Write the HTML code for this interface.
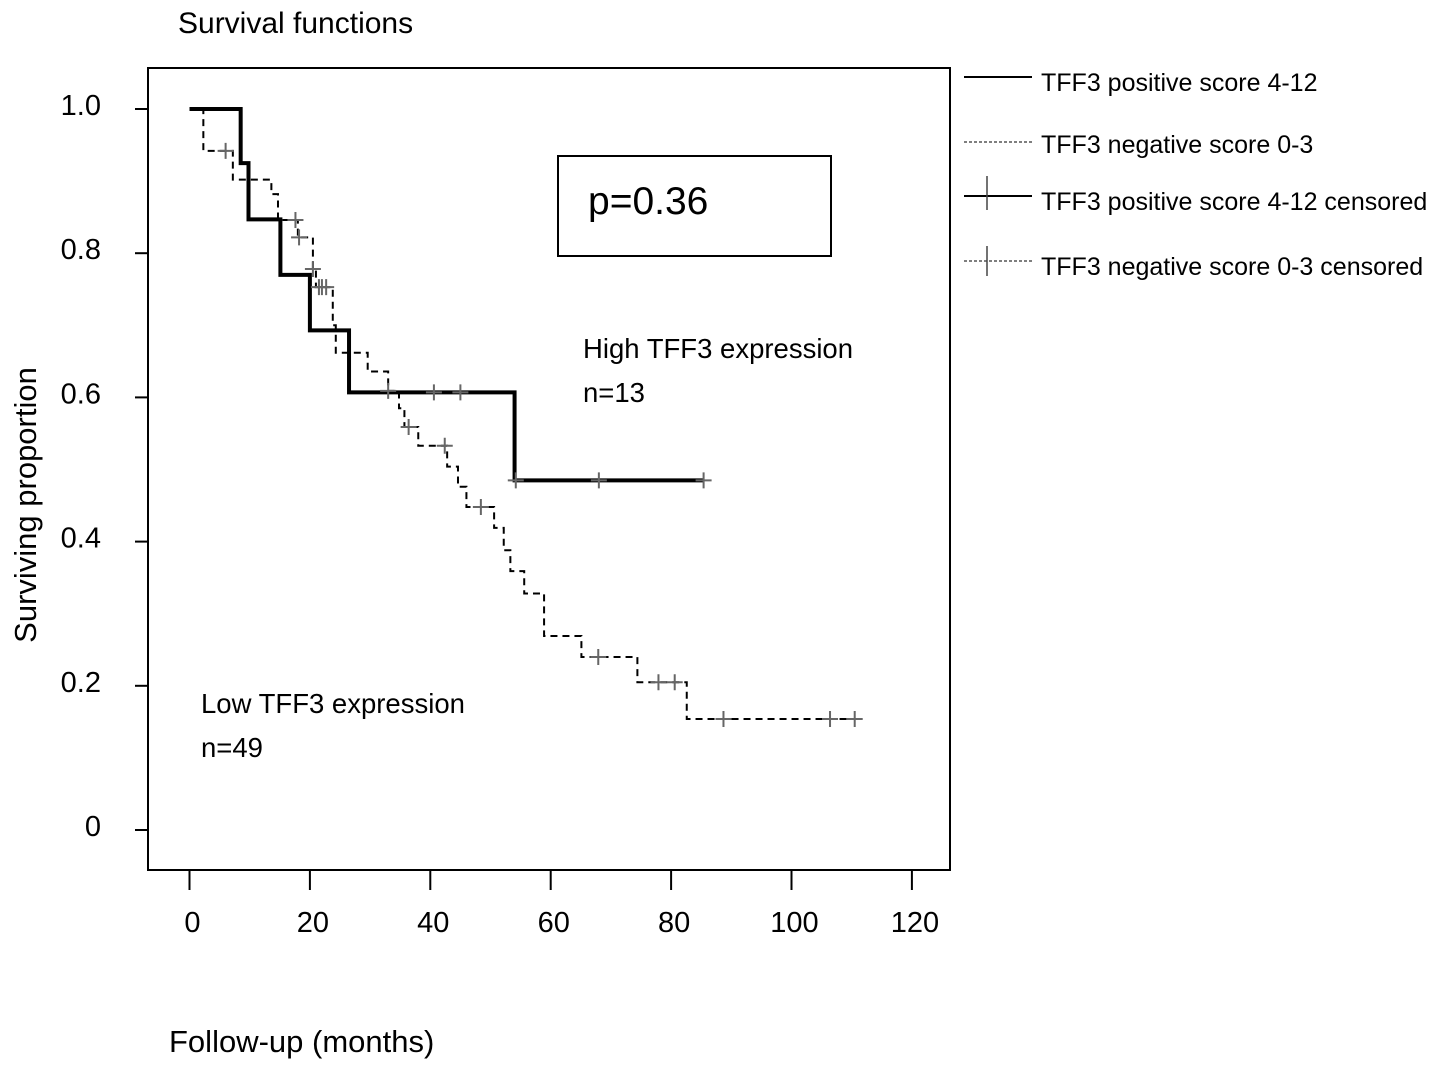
<!DOCTYPE html>
<html><head><meta charset="utf-8"><style>
body{margin:0;background:#fff;}
svg{display:block;font-family:"Liberation Sans",sans-serif;}
</style></head><body>
<svg id="chart" width="1441" height="1070">
<text x="178" y="33" font-size="30">Survival functions</text>
<rect x="148" y="68" width="802" height="802" fill="none" stroke="#000" stroke-width="2"/>
<g id="axes"></g>
<g id="series"></g>
<text x="169" y="1052" font-size="31">Follow-up (months)</text>
<text transform="translate(36,505) rotate(-90)" text-anchor="middle" font-size="31">Surviving proportion</text>
<rect x="558" y="156" width="273" height="100" fill="none" stroke="#000" stroke-width="2"/>
<text x="588" y="214" font-size="39">p=0.36</text>
<text x="583" y="358" font-size="27.5">High TFF3 expression</text>
<text x="583" y="402" font-size="27.5">n=13</text>
<text x="201" y="713" font-size="27.5">Low TFF3 expression</text>
<text x="201" y="757" font-size="27.5">n=49</text>
<g font-size="25">
 <line x1="964" y1="77" x2="1032" y2="77" stroke="#000" stroke-width="2"/>
 <text x="1041" y="91">TFF3 positive score 4-12</text>
 <line x1="964" y1="142" x2="1032" y2="142" stroke="#555" stroke-width="1.5" stroke-dasharray="3,2"/>
 <text x="1041" y="153">TFF3 negative score 0-3</text>
 <line x1="964" y1="196" x2="1032" y2="196" stroke="#000" stroke-width="2"/>
 <line x1="987" y1="176" x2="987" y2="210" stroke="#444" stroke-width="1.5"/>
 <text x="1041" y="210">TFF3 positive score 4-12 censored</text>
 <line x1="964" y1="261" x2="1032" y2="261" stroke="#555" stroke-width="1.5" stroke-dasharray="3,2"/>
 <line x1="987" y1="246" x2="987" y2="276" stroke="#444" stroke-width="1.5"/>
 <text x="1041" y="275">TFF3 negative score 0-3 censored</text>
</g>
</svg>
<script>
const xTicks=[0,20,40,60,80,100,120];
const yTicks=[0,0.2,0.4,0.6,0.8,1.0];
const yTickLabels=["0","0.2","0.4","0.6","0.8","1.0"];
// positive: event times and survival after each drop
const posTimes=[8.5,9.8,15.1,20,26.5,54];
const posSurv=[0.925,0.847,0.770,0.693,0.607,0.485];
const posEnd=85.4;
const posCensT=[40.6,45,54.2,68,85.4];
const negTimes=[2.3,7.2,13.6,14.7,18,20.5,21,23.8,24.3,29.6,33,34.8,35.7,38,42.8,44.6,46,50.6,52.2,53.3,55.6,58.9,65.1,74.4,82.6];
const negSurv=[0.942,0.902,0.882,0.846,0.822,0.778,0.753,0.700,0.662,0.636,0.609,0.585,0.559,0.533,0.504,0.476,0.448,0.419,0.388,0.359,0.328,0.269,0.240,0.205,0.154];
const negEnd=111.4;
const negCensT=[6,17.6,18.2,20.5,21.5,22,22.7,33,36.4,42.4,48.4,67.9,77.9,80.6,88.7,106.4,110.5];

const X=t=>189.5+t*6.02;
const Y=s=>830-s*721;
const NS="http://www.w3.org/2000/svg";
function mk(tag,attrs,parent){const e=document.createElementNS(NS,tag);for(const k in attrs)e.setAttribute(k,attrs[k]);parent.appendChild(e);return e;}
const axes=document.getElementById('axes'),ser=document.getElementById('series');
xTicks.forEach(v=>{
 const l=mk('line',{x1:X(v),x2:X(v),y1:870,y2:890,stroke:'#000','stroke-width':2},axes);
 
 
 const t=mk('text',{x:X(v)+3,y:932,'text-anchor':'middle','font-size':29},axes);
 t.textContent=v;
 
 
});
yTicks.forEach((v,i)=>{
 const l=mk('line',{x1:135,x2:148,y1:Y(v),y2:Y(v),stroke:'#000','stroke-width':2},axes);
 
 
 const t=mk('text',{x:101,y:Y(v)+6,'text-anchor':'end','font-size':29},axes);
 t.textContent=yTickLabels[i];
 
 
});
function survAt(times,surv,t){let s=1;for(let i=0;i<times.length;i++){if(times[i]<=t)s=surv[i];}return s;}
function stepPath(times,surv,end){let d=`M${X(0)},${Y(1)}`;times.forEach((t,i)=>{d+=` H${X(t)} V${Y(surv[i])}`;});d+=` H${X(end)}`;return d;}
const neg=mk('path',{d:stepPath(negTimes,negSurv,negEnd),fill:'none',stroke:'#000','stroke-width':2,'stroke-dasharray':'7,5'},ser);


const pos=mk('path',{d:stepPath(posTimes,posSurv,posEnd),fill:'none',stroke:'#000','stroke-width':4},ser);


function cens(times,surv,list,name){list.forEach(t=>{const s=survAt(times,surv,t);const x=X(t),y=Y(s);
 const g=mk('path',{d:`M${x-8},${y} H${x+8} M${x},${y-8} V${y+8}`,stroke:'#666','stroke-width':2,fill:'none'},ser);
 
 
});}
cens(negTimes,negSurv,negCensT,'negative-censor-mark');
cens(posTimes,posSurv,posCensT,'positive-censor-mark');
</script>
</body></html>
